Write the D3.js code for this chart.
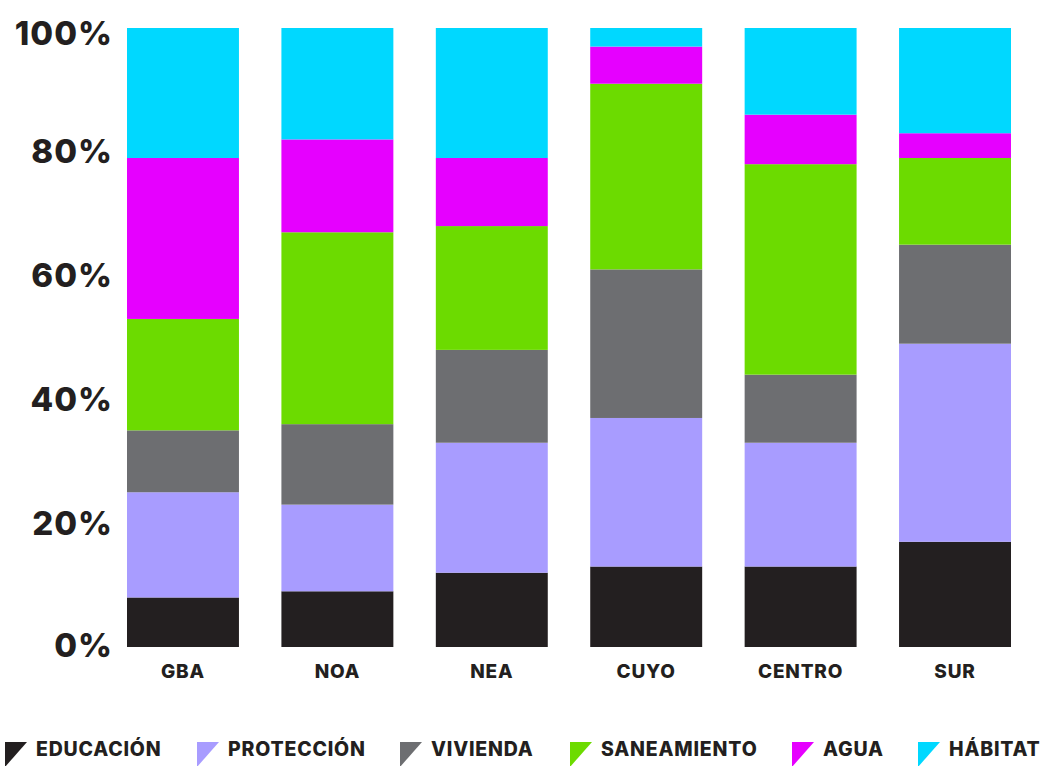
<!DOCTYPE html>
<html>
<head>
<meta charset="utf-8">
<script src="https://cdn.jsdelivr.net/npm/d3@7"></script>
<style>
  body { margin: 0; background: #fff; }
  text { font-family: Inter, "Noto Sans", sans-serif; font-weight: 800; fill: #231f20; }
</style>
</head>
<body>
<svg width="1041" height="766"></svg>
<script>
var regions = ["GBA", "NOA", "NEA", "CUYO", "CENTRO", "SUR"];
var series = ["EDUCACIÓN", "PROTECCIÓN", "VIVIENDA", "SANEAMIENTO", "AGUA", "HÁBITAT"];
var colors = ["#231f20", "#a89cff", "#6d6e71", "#6cdb00", "#e600ff", "#00d8ff"];

var educacion   = [8, 9, 12, 13, 13, 17];
var proteccion  = [17, 14, 21, 24, 20, 32];
var vivienda    = [10, 13, 15, 24, 11, 16];
var saneamiento = [18, 31, 20, 30, 34, 14];
var agua        = [26, 15, 11, 6, 8, 4];
var habitat     = [21, 18, 21, 3, 14, 17];

var yTicks = [0, 20, 40, 60, 80, 100];

var allSeries = [educacion, proteccion, vivienda, saneamiento, agua, habitat];
var rows = regions.map(function(r, i) {
  var o = { region: r };
  series.forEach(function(s, j) { o[s] = allSeries[j][i]; });
  return o;
});

var svg = d3.select("svg");

var x = d3.scaleBand().domain(regions).range([127, 1011]).paddingInner(0.275).paddingOuter(0);
var y = d3.scaleLinear().domain([0, 100]).range([647, 28]);

var stack = d3.stack().keys(series).offset(d3.stackOffsetExpand);
var layers = stack(rows);

svg.selectAll("g.layer")
  .data(layers)
  .enter().append("g")
  .attr("class", "layer")
  .attr("fill", function(d, i) { return colors[i]; })
  .selectAll("rect")
  .data(function(d) { return d; })
  .enter().append("rect")
  .attr("x", function(d) { return x(d.data.region); })
  .attr("width", x.bandwidth())
  .attr("y", function(d) { return y(d[1] * 100); })
  .attr("height", function(d) { return y(d[0] * 100) - y(d[1] * 100); });

// y labels
svg.selectAll("text.ytick")
  .data(yTicks)
  .enter().append("text")
  .attr("class", "ytick")
  .attr("x", 113)
  .attr("y", function(d) { return y(d) + (d == 100 ? 5 : d == 0 ? -2 : 0); })
  .attr("dy", "0.35em")
  .attr("text-anchor", "end")
  .style("font-size", "33px")
  .style("letter-spacing", "1px")
  .text(function(d) { return d + "%"; });

// x labels
svg.selectAll("text.xtick")
  .data(regions)
  .enter().append("text")
  .attr("class", "xtick")
  .attr("x", function(d) { return x(d) + x.bandwidth() / 2; })
  .attr("y", 678)
  .attr("text-anchor", "middle")
  .style("font-size", "19px")
  .style("letter-spacing", "0.8px")
  .text(function(d) { return d; });

// legend
var legendX = [5, 197, 400, 570, 792, 918];
var leg = svg.selectAll("g.leg")
  .data(series)
  .enter().append("g")
  .attr("class", "leg")
  .attr("transform", function(d, i) { return "translate(" + legendX[i] + ",742)"; });

leg.append("path")
  .attr("d", "M0,0L22,0L0,25Z")
  .attr("fill", function(d, i) { return colors[i]; });

leg.append("text")
  .attr("x", 31)
  .attr("y", 14)
  .style("font-size", "19.5px")
  .style("letter-spacing", "0.8px")
  .text(function(d) { return d; });
</script>
</body>
</html>
